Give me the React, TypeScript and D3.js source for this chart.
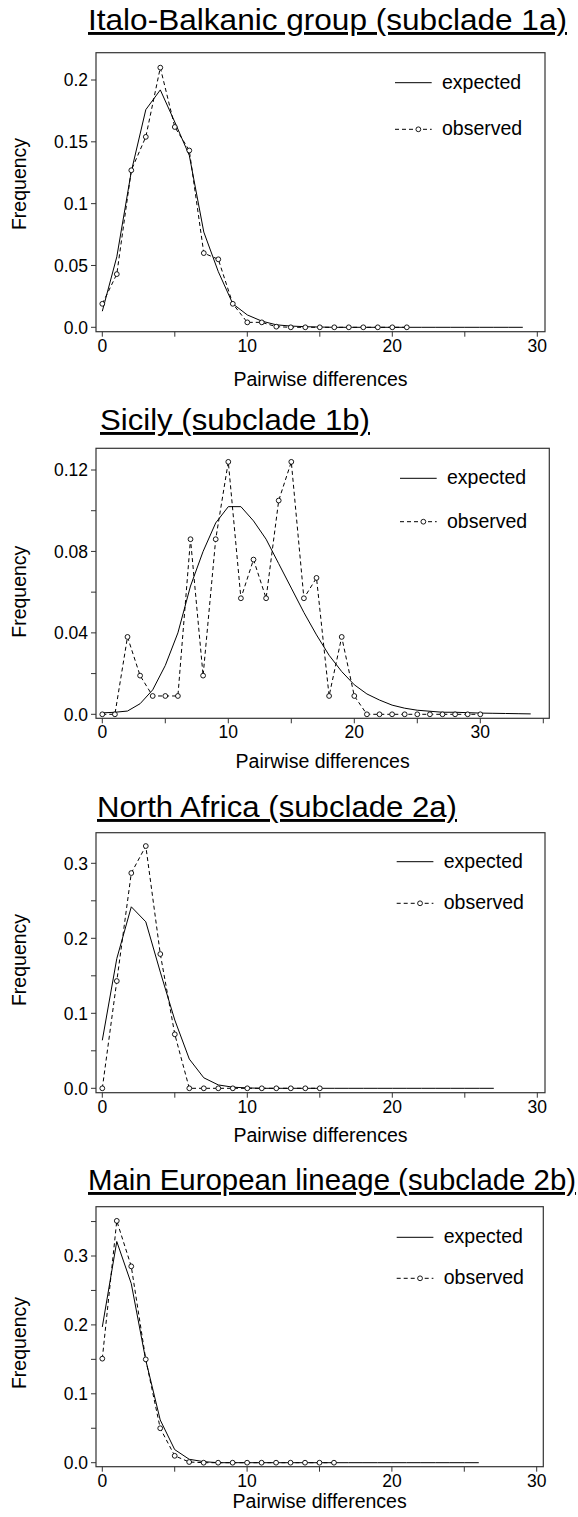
import React from "react";
import * as d3 from "d3";

// ---------- data ----------
const TITLES = [
  "Italo-Balkanic group (subclade 1a)",
  "Sicily (subclade 1b)",
  "North Africa (subclade 2a)",
  "Main European lineage (subclade 2b)",
];

const ITALO_OBS = [0.019, 0.043, 0.127, 0.154, 0.21, 0.162, 0.143, 0.06, 0.055, 0.019, 0.004, 0.004, 0.0005, 0, 0, 0, 0, 0, 0, 0, 0, 0];
const ITALO_EXP = [0.013, 0.057, 0.126, 0.176, 0.192, 0.166, 0.139, 0.077, 0.045, 0.019, 0.01, 0.005, 0.002, 0.001, 0.0005, 0.0002, 0, 0, 0, 0, 0, 0, 0, 0, 0, 0, 0, 0, 0, 0];

const SICILY_OBS = [0, 0, 0.038, 0.019, 0.009, 0.009, 0.009, 0.086, 0.019, 0.086, 0.124, 0.057, 0.076, 0.057, 0.105, 0.124, 0.057, 0.067, 0.009, 0.038, 0.009, 0, 0, 0, 0, 0, 0, 0, 0, 0, 0];
const SICILY_EXP = [0.0007, 0.001, 0.0016, 0.0052, 0.012, 0.024, 0.04, 0.063, 0.08, 0.094, 0.102, 0.102, 0.095, 0.086, 0.074, 0.062, 0.05, 0.039, 0.029, 0.021, 0.0145, 0.01, 0.007, 0.0045, 0.003, 0.002, 0.0015, 0.001, 0.001, 0.0008, 0.0006, 0.0005, 0.0004, 0.0003, 0.0002];

const NAFR_OBS = [0, 0.143, 0.287, 0.323, 0.179, 0.072, 0, 0, 0, 0, 0, 0, 0, 0, 0, 0];
const NAFR_EXP = [0.064, 0.173, 0.242, 0.222, 0.155, 0.091, 0.039, 0.014, 0.0045, 0.0015, 0.0005, 0, 0, 0, 0, 0, 0, 0, 0, 0, 0, 0, 0, 0, 0, 0, 0, 0];

const MEUR_OBS = [0.151, 0.351, 0.285, 0.15, 0.05, 0.01, 0.001, 0, 0, 0, 0, 0, 0, 0, 0, 0, 0];
const MEUR_EXP = [0.197, 0.321, 0.26, 0.149, 0.062, 0.019, 0.005, 0.0015, 0, 0, 0, 0, 0, 0, 0, 0, 0, 0, 0, 0, 0, 0, 0, 0, 0, 0, 0];

const X_TICKS_30 = [0, 5, 10, 15, 20, 25, 30];
const X_TICKS_35 = [0, 5, 10, 15, 20, 25, 30, 35];
const X_LABELS = [0, 10, 20, 30];

const Y_TICKS_1 = [0, 0.05, 0.1, 0.15, 0.2];
const Y_LABELS_1 = [0, 0.05, 0.1, 0.15, 0.2];
const Y_TICKS_2 = [0, 0.02, 0.04, 0.06, 0.08, 0.1, 0.12];
const Y_LABELS_2 = [0, 0.04, 0.08, 0.12];
const Y_TICKS_3 = [0, 0.05, 0.1, 0.15, 0.2, 0.25, 0.3];
const Y_LABELS_3 = [0, 0.1, 0.2, 0.3];
const Y_TICKS_4 = [0, 0.05, 0.1, 0.15, 0.2, 0.25, 0.3, 0.35];
const Y_LABELS_4 = [0, 0.1, 0.2, 0.3];

const LEGEND = ["expected", "observed"];
const X_TITLE = "Pairwise differences";
const Y_TITLE = "Frequency";

// ---------- layout ----------
const FONT = "'Liberation Sans', Arial, Helvetica, sans-serif";

type PanelCfg = {
  title: string;
  titleX: number;
  titleY: number;
  titleW: number;
  obs: number[];
  exp: number[];
  box: [number, number, number, number]; // x0, y0, x1, y1
  xRange: [number, number]; // pixels of 0 and 30
  yDom: [number, number];
  yRange: [number, number];
  xTicks: number[];
  yTicks: number[];
  yLabels: number[];
  xLabelOff: number;
  yTitleY: number;
  leg: [number, number, number]; // first row y, second row y, line x0
};

const fmt = (v: number) => (v === 0 ? "0.0" : String(v));

const PANELS: PanelCfg[] = [
  {
    title: TITLES[0], titleX: 88, titleY: 30, titleW: 479, obs: ITALO_OBS, exp: ITALO_EXP,
    box: [96, 52.7, 545, 331.7], xRange: [102.3, 537.3], yDom: [0, 0.2], yRange: [327.3, 80],
    xTicks: X_TICKS_30, yTicks: Y_TICKS_1, yLabels: Y_LABELS_1,
    xLabelOff: 54, yTitleY: 184, leg: [82.7, 129.3, 395],
  },
  {
    title: TITLES[1], titleX: 100, titleY: 430, titleW: 270, obs: SICILY_OBS, exp: SICILY_EXP,
    box: [96, 448.3, 549.3, 718.3], xRange: [102.3, 480.3], yDom: [0, 0.12], yRange: [714.3, 470],
    xTicks: X_TICKS_35, yTicks: Y_TICKS_2, yLabels: Y_LABELS_2,
    xLabelOff: 50, yTitleY: 591.7, leg: [478.3, 521.7, 400],
  },
  {
    title: TITLES[2], titleX: 97, titleY: 817, titleW: 360, obs: NAFR_OBS, exp: NAFR_EXP,
    box: [96, 832.7, 545, 1092.7], xRange: [102.3, 537.3], yDom: [0, 0.3], yRange: [1088.3, 863.3],
    xTicks: X_TICKS_30, yTicks: Y_TICKS_3, yLabels: Y_LABELS_3,
    xLabelOff: 49, yTitleY: 960, leg: [861.7, 903.3, 396.7],
  },
  {
    title: TITLES[3], titleX: 88, titleY: 1190, titleW: 488, obs: MEUR_OBS, exp: MEUR_EXP,
    box: [96, 1206.7, 543.3, 1466.7], xRange: [102.3, 536.7], yDom: [0, 0.3], yRange: [1462.7, 1256],
    xTicks: X_TICKS_30, yTicks: Y_TICKS_4, yLabels: Y_LABELS_4,
    xLabelOff: 41, yTitleY: 1343, leg: [1237.3, 1278.3, 396.7],
  },
];

function Panel({ p }: { p: PanelCfg }) {
  const x = d3.scaleLinear().domain([0, 30]).range(p.xRange);
  const y = d3.scaleLinear().domain(p.yDom).range(p.yRange);
  const [bx0, by0, bx1, by1] = p.box;
  const line = d3
    .line<number>()
    .x((_, i) => x(i))
    .y((d) => y(d));
  const cx = (bx0 + bx1) / 2;
  const [ly1, ly2, lx0] = p.leg;
  const lx1 = lx0 + 36.7;
  const tx = lx0 + 47;
  return (
    <g fontFamily={FONT} fill="#000">
      <text
        x={p.titleX}
        y={p.titleY}
        fontSize={29}
        textLength={p.titleW}
        lengthAdjust="spacingAndGlyphs"
        style={{ textDecoration: "underline" }}
      >
        {p.title}
      </text>
      <rect x={bx0} y={by0} width={bx1 - bx0} height={by1 - by0} fill="none" stroke="#333" strokeWidth={1.2} />
      {/* y axis */}
      {p.yTicks.map((t) => (
        <line key={"yt" + t} x1={bx0 - 5} x2={bx0} y1={y(t)} y2={y(t)} stroke="#333" strokeWidth={1} />
      ))}
      {p.yLabels.map((t) => (
        <text key={"yl" + t} x={bx0 - 8} y={y(t)} dy="0.36em" fontSize={17.5} textAnchor="end">
          {fmt(t)}
        </text>
      ))}
      {/* x axis */}
      {p.xTicks.map((t) => (
        <line key={"xt" + t} x1={x(t)} x2={x(t)} y1={by1} y2={by1 + 5} stroke="#333" strokeWidth={1} />
      ))}
      {X_LABELS.map((t) => (
        <text key={"xl" + t} x={x(t)} y={by1 + 20} fontSize={17.5} textAnchor="middle">
          {t}
        </text>
      ))}
      <text x={cx} y={by1 + p.xLabelOff} fontSize={19.5} textAnchor="middle">
        {X_TITLE}
      </text>
      <text
        transform={`translate(26,${p.yTitleY}) rotate(-90)`}
        fontSize={19.5}
        textAnchor="middle"
      >
        {Y_TITLE}
      </text>
      {/* series */}
      <path d={line(p.exp) || ""} fill="none" stroke="#000" strokeWidth={1} />
      <path d={line(p.obs) || ""} fill="none" stroke="#000" strokeWidth={1} strokeDasharray="4,3" />
      {p.obs.map((d, i) => (
        <circle key={"c" + i} cx={x(i)} cy={y(d)} r={2.4} fill="#fff" stroke="#000" strokeWidth={0.9} />
      ))}
      {/* legend */}
      <line x1={lx0} x2={lx1} y1={ly1} y2={ly1} stroke="#000" strokeWidth={1} />
      <text x={tx} y={ly1 + 6} fontSize={19.5}>
        {LEGEND[0]}
      </text>
      <line x1={lx0} x2={lx1} y1={ly2} y2={ly2} stroke="#000" strokeWidth={1} strokeDasharray="4,3" />
      <circle cx={(lx0 + lx1) / 2 + 5} cy={ly2} r={2.4} fill="#fff" stroke="#000" strokeWidth={0.9} />
      <text x={tx} y={ly2 + 6} fontSize={19.5}>
        {LEGEND[1]}
      </text>
    </g>
  );
}

export default function App() {
  return (
    <svg
      width={578}
      height={1517}
      viewBox="0 0 578 1517"
      style={{ position: "absolute", left: 0, top: 0, background: "#fff" }}
    >
      <rect x={0} y={0} width={578} height={1517} fill="#fff" />
      {PANELS.map((p, i) => (
        <Panel key={i} p={p} />
      ))}
    </svg>
  );
}
